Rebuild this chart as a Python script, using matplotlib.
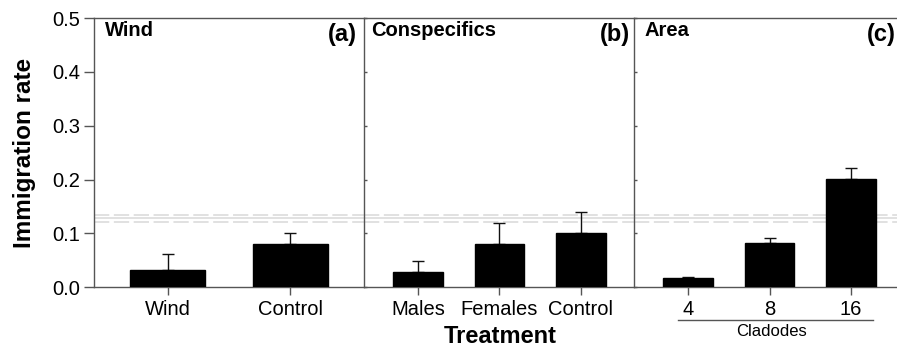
import numpy as np
import matplotlib
matplotlib.use('Agg')
import matplotlib.pyplot as plt
import matplotlib.transforms as mtransforms

plt.rcParams['font.family'] = ['Liberation Sans', 'DejaVu Sans']

# panel (a) wind
wind_labels = ['Wind', 'Control']
wind_means = [0.033, 0.080]
wind_se = [0.029, 0.020]
# panel (b) conspecifics
consp_labels = ['Males', 'Females', 'Control']
consp_means = [0.029, 0.080, 0.100]
consp_se = [0.020, 0.040, 0.040]
# panel (c) area (number of cladodes)
area_labels = ['4', '8', '16']
area_means = [0.017, 0.083, 0.201]
area_se = [0.002, 0.008, 0.020]

# grey reference lines (overall mean with band)
ref_mean = 0.128
ref_lo = 0.122
ref_hi = 0.134

panels = [
    ('Wind', '(a)', wind_labels, wind_means, wind_se),
    ('Conspecifics', '(b)', consp_labels, consp_means, consp_se),
    ('Area', '(c)', area_labels, area_means, area_se),
]

fig = plt.figure(figsize=(8.97, 3.49), dpi=100)
fig.set_facecolor('white')

W, H = 897.0, 349.0
y0, y1 = 287.3, 18.0
# pixel extents of each panel and x-limits
boxes = [(94, 364, (-0.60, 1.60)), (364, 634, (-0.66, 2.65)), (634, 905, (-0.66, 2.66))]
title_x = [0.041, 0.026, 0.037]
letter_x = [0.974, 0.985, 0.967]
spine_col = '#555555'

axes = []
for i, (left, right, xl) in enumerate(boxes):
    ax = fig.add_axes([left / W, 1 - y0 / H, (right - left) / W, (y0 - y1) / H])
    axes.append(ax)
    title, letter, labels, means, se = panels[i]
    x = np.arange(len(labels))
    ax.bar(x, means, width=0.61, color='black', edgecolor='black', zorder=3)
    ax.errorbar(x, means, yerr=[np.zeros(len(se)), se], fmt='none', ecolor='#111111',
                elinewidth=1.0, capsize=4.5, capthick=1.0, zorder=2)
    # grey reference lines
    ax.axhline(ref_mean, color='#d9d9d9', lw=1.1, zorder=1)
    ax.axhline(ref_hi, color='#d9d9d9', lw=1.1, ls=(0, (10, 3)), zorder=1)
    ax.axhline(ref_lo, color='#d9d9d9', lw=1.1, ls=(0, (10, 3)), zorder=1)

    ax.set_xlim(xl)
    ax.set_ylim(0, 0.5)
    ax.set_xticks(x)
    ax.set_xticklabels(labels, fontsize=14.5)
    ax.tick_params(axis='x', direction='out', length=6, width=1, color=spine_col, pad=3)
    for s in ax.spines.values():
        s.set_color(spine_col)
        s.set_linewidth(1.0)
    ax.set_yticks(np.arange(0, 0.51, 0.1))
    if i == 0:
        ax.set_yticklabels(['%.1f' % v for v in np.arange(0, 0.51, 0.1)], fontsize=14.5)
        ax.tick_params(axis='y', direction='out', length=7, width=1, color=spine_col, pad=3)
    else:
        ax.tick_params(axis='y', direction='in', length=2, width=1, color=spine_col, labelleft=False)
    ax.spines['right'].set_visible(False)

    ax.text(title_x[i], 0.952, title, transform=ax.transAxes, fontsize=14.5,
            fontweight='bold', ha='left', va='center')
    ax.text(letter_x[i], 0.94, letter, transform=ax.transAxes, fontsize=17,
            fontweight='bold', ha='right', va='center')

# "Cladodes" bracket under panel (c)
axc = axes[2]
tr = mtransforms.blended_transform_factory(axc.transData, axc.transAxes)
axc.plot([-0.12, 2.27], [-0.121, -0.121], color=spine_col, lw=1.0, transform=tr, clip_on=False)
axc.text(1.03, -0.165, 'Cladodes', transform=tr, fontsize=12, ha='center', va='center')

fig.text(500.7 / W, 1 - 336.7 / H, 'Treatment', fontsize=17, fontweight='bold', ha='center', va='center')
fig.text(24 / W, 1 - 152.6 / H, 'Immigration rate', fontsize=17.5, fontweight='bold',
         rotation=90, ha='center', va='center')

plt.savefig('out.png', dpi=100)
